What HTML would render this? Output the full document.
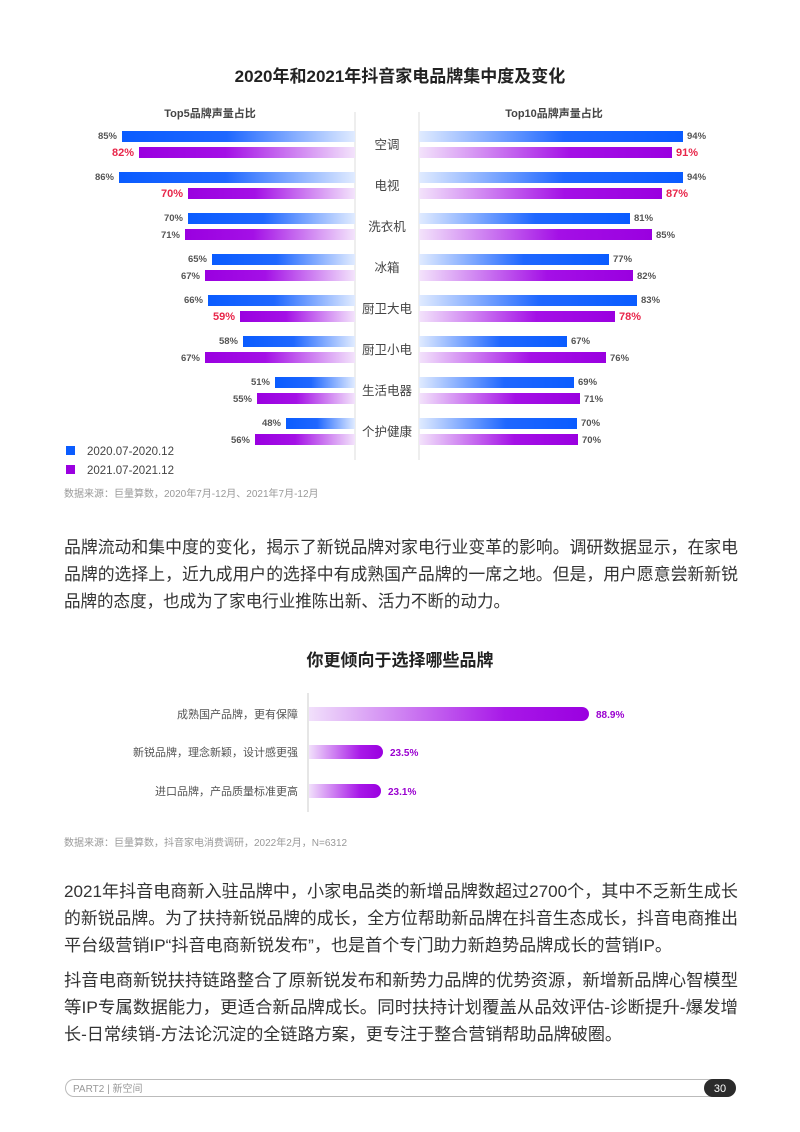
<!DOCTYPE html>
<html><head><meta charset="utf-8">
<style>
html,body{margin:0;padding:0;background:#fff;}
svg{display:block;}
text{font-family:"Liberation Sans","Noto Sans CJK SC",sans-serif;}
</style></head>
<body>
<svg width="800" height="1132" viewBox="0 0 800 1132" xmlns="http://www.w3.org/2000/svg">
<defs>
<linearGradient id="bl" x1="0" x2="1" y1="0" y2="0"><stop offset="0" stop-color="#0a5cff"/><stop offset="0.45" stop-color="#1f67ff"/><stop offset="1" stop-color="#e0ebff"/></linearGradient>
<linearGradient id="pl" x1="0" x2="1" y1="0" y2="0"><stop offset="0" stop-color="#9a00e0"/><stop offset="0.4" stop-color="#a410e6"/><stop offset="1" stop-color="#f3e3fb"/></linearGradient>
<linearGradient id="br" x1="0" x2="1" y1="0" y2="0"><stop offset="0" stop-color="#e0ebff"/><stop offset="0.55" stop-color="#1f67ff"/><stop offset="1" stop-color="#0a5cff"/></linearGradient>
<linearGradient id="pr" x1="0" x2="1" y1="0" y2="0"><stop offset="0" stop-color="#f3e3fb"/><stop offset="0.6" stop-color="#a410e6"/><stop offset="1" stop-color="#9a00e0"/></linearGradient>
</defs>
<text x="400" y="82" text-anchor="middle" font-size="17" font-weight="bold" fill="#222">2020年和2021年抖音家电品牌集中度及变化</text>
<text x="210" y="117" text-anchor="middle" font-size="11" font-weight="bold" fill="#444">Top5品牌声量占比</text>
<text x="554" y="117" text-anchor="middle" font-size="11" font-weight="bold" fill="#444">Top10品牌声量占比</text>
<line x1="355" y1="112" x2="355" y2="460" stroke="#ddd" stroke-width="1"/>
<line x1="419" y1="112" x2="419" y2="460" stroke="#ddd" stroke-width="1"/>
<g font-size="9.5" font-weight="bold">
<!-- rows -->
<g id="rows"></g>
</g>
<g font-size="9.5" font-weight="bold" fill="#555">
<!-- group 1 -->
<rect x="122" y="131" width="233" height="11" fill="url(#bl)"/><text x="117" y="139" text-anchor="end">85%</text>
<rect x="139" y="147" width="216" height="11" fill="url(#pl)"/><text x="134" y="156" text-anchor="end" fill="#e8264a" font-size="11">82%</text>
<rect x="419" y="131" width="264" height="11" fill="url(#br)"/><text x="687" y="139">94%</text>
<rect x="419" y="147" width="253" height="11" fill="url(#pr)"/><text x="676" y="156" fill="#e8264a" font-size="11">91%</text>
<!-- 2 -->
<rect x="119" y="172" width="236" height="11" fill="url(#bl)"/><text x="114" y="180" text-anchor="end">86%</text>
<rect x="188" y="188" width="167" height="11" fill="url(#pl)"/><text x="183" y="197" text-anchor="end" fill="#e8264a" font-size="11">70%</text>
<rect x="419" y="172" width="264" height="11" fill="url(#br)"/><text x="687" y="180">94%</text>
<rect x="419" y="188" width="243" height="11" fill="url(#pr)"/><text x="666" y="197" fill="#e8264a" font-size="11">87%</text>
<!-- 3 -->
<rect x="188" y="213" width="167" height="11" fill="url(#bl)"/><text x="183" y="221" text-anchor="end">70%</text>
<rect x="185" y="229" width="170" height="11" fill="url(#pl)"/><text x="180" y="238" text-anchor="end">71%</text>
<rect x="419" y="213" width="211" height="11" fill="url(#br)"/><text x="634" y="221">81%</text>
<rect x="419" y="229" width="233" height="11" fill="url(#pr)"/><text x="656" y="238">85%</text>
<!-- 4 -->
<rect x="212" y="254" width="143" height="11" fill="url(#bl)"/><text x="207" y="262" text-anchor="end">65%</text>
<rect x="205" y="270" width="150" height="11" fill="url(#pl)"/><text x="200" y="279" text-anchor="end">67%</text>
<rect x="419" y="254" width="190" height="11" fill="url(#br)"/><text x="613" y="262">77%</text>
<rect x="419" y="270" width="214" height="11" fill="url(#pr)"/><text x="637" y="279">82%</text>
<!-- 5 -->
<rect x="208" y="295" width="147" height="11" fill="url(#bl)"/><text x="203" y="303" text-anchor="end">66%</text>
<rect x="240" y="311" width="115" height="11" fill="url(#pl)"/><text x="235" y="320" text-anchor="end" fill="#e8264a" font-size="11">59%</text>
<rect x="419" y="295" width="218" height="11" fill="url(#br)"/><text x="641" y="303">83%</text>
<rect x="419" y="311" width="196" height="11" fill="url(#pr)"/><text x="619" y="320" fill="#e8264a" font-size="11">78%</text>
<!-- 6 -->
<rect x="243" y="336" width="112" height="11" fill="url(#bl)"/><text x="238" y="344" text-anchor="end">58%</text>
<rect x="205" y="352" width="150" height="11" fill="url(#pl)"/><text x="200" y="361" text-anchor="end">67%</text>
<rect x="419" y="336" width="148" height="11" fill="url(#br)"/><text x="571" y="344">67%</text>
<rect x="419" y="352" width="187" height="11" fill="url(#pr)"/><text x="610" y="361">76%</text>
<!-- 7 -->
<rect x="275" y="377" width="80" height="11" fill="url(#bl)"/><text x="270" y="385" text-anchor="end">51%</text>
<rect x="257" y="393" width="98" height="11" fill="url(#pl)"/><text x="252" y="402" text-anchor="end">55%</text>
<rect x="419" y="377" width="155" height="11" fill="url(#br)"/><text x="578" y="385">69%</text>
<rect x="419" y="393" width="161" height="11" fill="url(#pr)"/><text x="584" y="402">71%</text>
<!-- 8 -->
<rect x="286" y="418" width="69" height="11" fill="url(#bl)"/><text x="281" y="426" text-anchor="end">48%</text>
<rect x="255" y="434" width="100" height="11" fill="url(#pl)"/><text x="250" y="443" text-anchor="end">56%</text>
<rect x="419" y="418" width="158" height="11" fill="url(#br)"/><text x="581" y="426">70%</text>
<rect x="419" y="434" width="159" height="11" fill="url(#pr)"/><text x="582" y="443">70%</text>
</g>
<g font-size="12.5" fill="#444" text-anchor="middle">
<text x="387" y="149">空调</text>
<text x="387" y="190">电视</text>
<text x="387" y="231">洗衣机</text>
<text x="387" y="272">冰箱</text>
<text x="387" y="313">厨卫大电</text>
<text x="387" y="354">厨卫小电</text>
<text x="387" y="395">生活电器</text>
<text x="387" y="436">个护健康</text>
</g>
<rect x="66" y="446" width="9" height="9" fill="#0a5cff"/>
<text x="87" y="455" font-size="11.5" fill="#444">2020.07-2020.12</text>
<rect x="66" y="465" width="9" height="9" fill="#9a00e0"/>
<text x="87" y="474" font-size="11.5" fill="#444">2021.07-2021.12</text>
<text x="64" y="497" font-size="10" fill="#999">数据来源：巨量算数，2020年7月-12月、2021年7月-12月</text>

<g font-size="17" fill="#333">
<text x="64" y="553" textLength="674" lengthAdjust="spacingAndGlyphs">品牌流动和集中度的变化，揭示了新锐品牌对家电行业变革的影响。调研数据显示，在家电</text>
<text x="64" y="580" textLength="674" lengthAdjust="spacingAndGlyphs">品牌的选择上，近九成用户的选择中有成熟国产品牌的一席之地。但是，用户愿意尝新新锐</text>
<text x="64" y="607" textLength="446" lengthAdjust="spacingAndGlyphs">品牌的态度，也成为了家电行业推陈出新、活力不断的动力。</text>
</g>

<text x="400" y="666" text-anchor="middle" font-size="17" font-weight="bold" fill="#222">你更倾向于选择哪些品牌</text>
<line x1="308" y1="693" x2="308" y2="812" stroke="#ccc" stroke-width="1"/>
<g font-size="11" fill="#555" text-anchor="end">
<text x="298" y="718">成熟国产品牌，更有保障</text>
<text x="298" y="756">新锐品牌，理念新颖，设计感更强</text>
<text x="298" y="795">进口品牌，产品质量标准更高</text>
</g>
<linearGradient id="p2" x1="0" x2="1" y1="0" y2="0"><stop offset="0" stop-color="#f1e0fb"/><stop offset="0.7" stop-color="#a818e8"/><stop offset="1" stop-color="#9a00e0"/></linearGradient>
<path d="M309 707 H582 a7 7 0 0 1 0 14 H309 Z" fill="url(#p2)"/>
<path d="M309 745 H376 a7 7 0 0 1 0 14 H309 Z" fill="url(#p2)"/>
<path d="M309 784 H374 a7 7 0 0 1 0 14 H309 Z" fill="url(#p2)"/>
<g font-size="10" font-weight="bold" fill="#9a00d0">
<text x="596" y="718">88.9%</text>
<text x="390" y="756">23.5%</text>
<text x="388" y="795">23.1%</text>
</g>
<text x="64" y="846" font-size="10" fill="#999">数据来源：巨量算数，抖音家电消费调研，2022年2月，N=6312</text>

<g font-size="17" fill="#333">
<text x="64" y="897" textLength="674" lengthAdjust="spacingAndGlyphs">2021年抖音电商新入驻品牌中，小家电品类的新增品牌数超过2700个，其中不乏新生成长</text>
<text x="64" y="924" textLength="674" lengthAdjust="spacingAndGlyphs">的新锐品牌。为了扶持新锐品牌的成长，全方位帮助新品牌在抖音生态成长，抖音电商推出</text>
<text x="64" y="951" textLength="608" lengthAdjust="spacingAndGlyphs">平台级营销IP“抖音电商新锐发布”，也是首个专门助力新趋势品牌成长的营销IP。</text>
<text x="64" y="986" textLength="674" lengthAdjust="spacingAndGlyphs">抖音电商新锐扶持链路整合了原新锐发布和新势力品牌的优势资源，新增新品牌心智模型</text>
<text x="64" y="1013" textLength="674" lengthAdjust="spacingAndGlyphs">等IP专属数据能力，更适合新品牌成长。同时扶持计划覆盖从品效评估-诊断提升-爆发增</text>
<text x="64" y="1040" textLength="558" lengthAdjust="spacingAndGlyphs">长-日常续销-方法论沉淀的全链路方案，更专注于整合营销帮助品牌破圈。</text>
</g>

<rect x="65.5" y="1079.5" width="670" height="17" rx="8.5" fill="none" stroke="#bbb" stroke-width="1"/>
<rect x="704" y="1079" width="32" height="18" rx="9" fill="#2b2b2b"/>
<text x="720" y="1092" text-anchor="middle" font-size="11" fill="#fff">30</text>
<text x="73" y="1092" font-size="10" fill="#999">PART2  |   新空间</text>
</svg>
</body></html>
